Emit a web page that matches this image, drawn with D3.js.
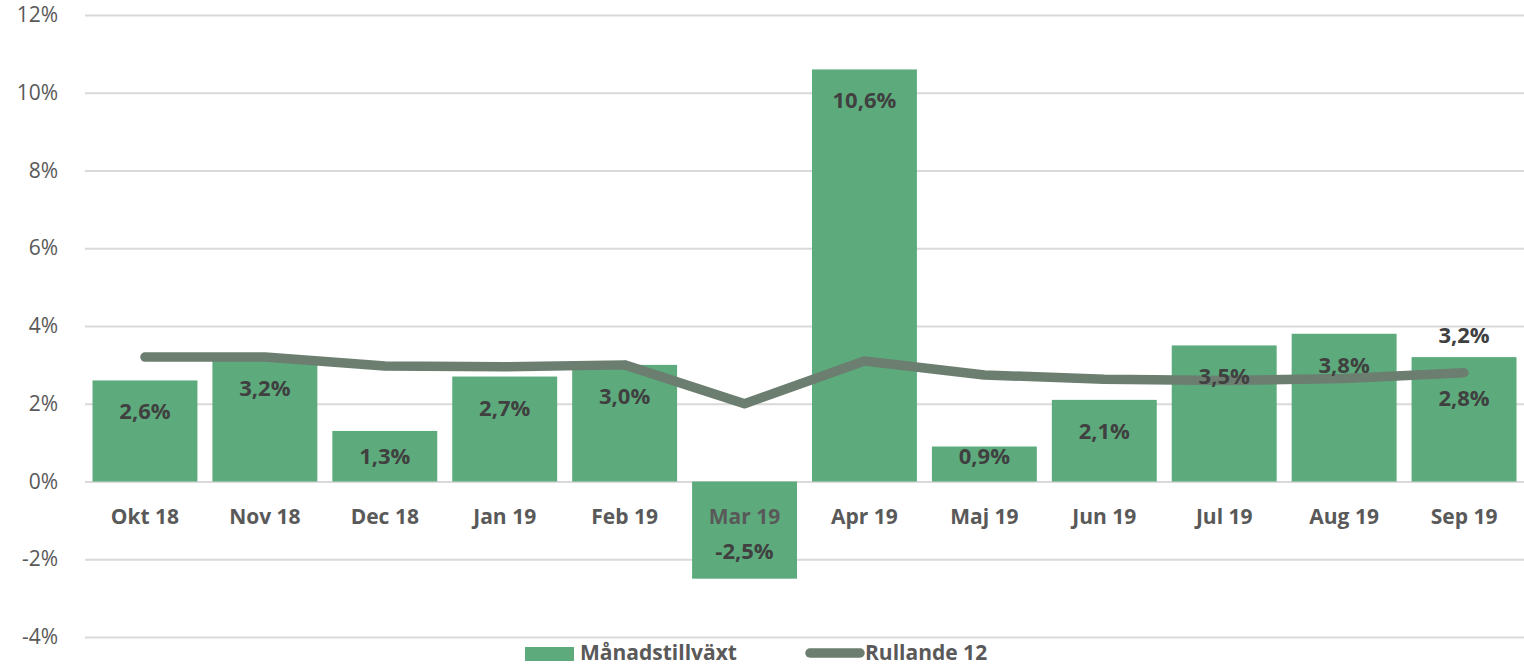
<!DOCTYPE html>
<html>
<head>
<meta charset="utf-8">
<script src="https://cdn.jsdelivr.net/npm/d3@7"></script>
<style>
  body { margin: 0; background: #fff; }
  text { font-family: "Open Sans", Lato, sans-serif; }
</style>
</head>
<body>
<div id="chart"></div>
<script>
// månadsdata
var months = ["Okt 18","Nov 18","Dec 18","Jan 19","Feb 19","Mar 19","Apr 19","Maj 19","Jun 19","Jul 19","Aug 19","Sep 19"];
var growth = [2.6, 3.2, 1.3, 2.7, 3.0, -2.5, 10.6, 0.9, 2.1, 3.5, 3.8, 3.2];
var rolling = [3.2, 3.2, 2.97, 2.95, 3.0, 2.0, 3.1, 2.74, 2.63, 2.6, 2.65, 2.8];
var yTicks = [-4, -2, 0, 2, 4, 6, 8, 10, 12];
var legendNames = ["Månadstillväxt", "Rullande 12"];

var width = 1524, height = 666;
var margin = {top: 15, left: 85, right: 0, bottom: 29};

var fmt = (v) => v.toFixed(1).replace(".", ",") + "%";

const svg = d3.select("#chart").append("svg")
    .attr("width", width)
    .attr("height", height);

const x = d3.scaleBand()
    .domain(months)
    .range([margin.left, width - margin.right])
    .paddingInner(0.125)
    .paddingOuter(0.0625);

const y = d3.scaleLinear()
    .domain([-4, 12])
    .range([height - margin.bottom, margin.top]);

// grid
const yAxis = svg.append("g")
    .attr("transform", `translate(${margin.left},0)`)
    .call(d3.axisLeft(y).tickValues(yTicks).tickSize(-(width - margin.left - margin.right)).tickFormat(d => d + "%"));
yAxis.select(".domain").remove();
yAxis.selectAll(".tick line").attr("stroke", "#d9d9d9").attr("stroke-width", 2);
yAxis.selectAll(".tick text")
    .attr("x", -27)
    .attr("fill", "#595959")
    .style("font-size", "21px");

// staplar
svg.append("g").selectAll("rect")
    .data(growth)
    .join("rect")
    .attr("x", (d, i) => x(months[i]))
    .attr("width", x.bandwidth())
    .attr("y", d => y(Math.max(0, d)))
    .attr("height", d => Math.abs(y(d) - y(0)))
    .attr("fill", "#5dab7d");

// kategorier
svg.append("g").selectAll("text")
    .data(months)
    .join("text")
    .attr("x", d => x(d) + x.bandwidth() / 2)
    .attr("y", y(0) + 42)
    .attr("text-anchor", "middle")
    .attr("fill", "#595959")
    .style("font-size", "21px")
    .style("font-weight", "bold")
    .text(d => d);

// linje
const line = d3.line()
    .x((d, i) => x(months[i]) + x.bandwidth() / 2)
    .y(d => y(d));

svg.append("path")
    .attr("d", line(rolling))
    .attr("fill", "none")
    .attr("stroke", "#6b7e70")
    .attr("stroke-width", 9.5)
    .attr("stroke-linecap", "round")
    .attr("stroke-linejoin", "round");

// etiketter staplar
const last = growth.length - 1;
svg.append("g").selectAll("text")
    .data(growth)
    .join("text")
    .attr("x", (d, i) => x(months[i]) + x.bandwidth() / 2)
    .attr("y", (d, i) => {
        if (i == last) return y(d) - 14;
        if (d < 0) return y(0) + 77;
        // inne i stapeln, men inte under botten
        return Math.min(y(d) + 31, y(0) - 26) + 8;
    })
    .attr("text-anchor", "middle")
    .attr("fill", "#404040")
    .style("font-size", "22px")
    .style("font-weight", "bold")
    .text(d => fmt(d));

// etikett linje (sista)
svg.append("text")
    .attr("x", x(months[last]) + x.bandwidth() / 2)
    .attr("y", y(rolling[last]) + 33)
    .attr("text-anchor", "middle")
    .attr("fill", "#404040")
    .style("font-size", "22px")
    .style("font-weight", "bold")
    .text(fmt(rolling[last]));

// legend
const legend = svg.append("g");
legend.append("rect")
    .attr("x", 525).attr("y", 647)
    .attr("width", 49).attr("height", 14)
    .attr("fill", "#5dab7d");
legend.append("text")
    .attr("x", 580).attr("y", 660)
    .attr("fill", "#595959")
    .style("font-size", "21px")
    .style("font-weight", "bold")
    .text(legendNames[0]);
legend.append("line")
    .attr("x1", 810).attr("x2", 860)
    .attr("y1", 653).attr("y2", 653)
    .attr("stroke", "#6b7e70")
    .attr("stroke-width", 9.5)
    .attr("stroke-linecap", "round");
legend.append("text")
    .attr("x", 865).attr("y", 660)
    .attr("fill", "#595959")
    .style("font-size", "21px")
    .style("font-weight", "bold")
    .text(legendNames[1]);
</script>
</body>
</html>
